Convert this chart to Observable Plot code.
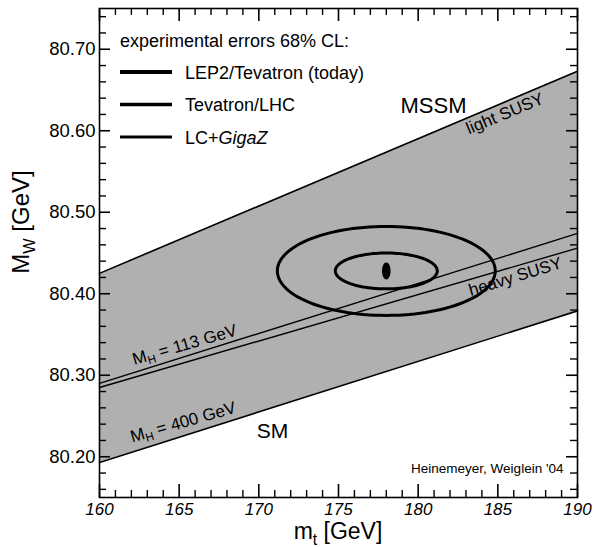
<!DOCTYPE html>
<html><head><meta charset="utf-8">
<script src="https://cdn.jsdelivr.net/npm/d3@7"></script>
<script src="https://cdn.jsdelivr.net/npm/@observablehq/plot@0.6"></script>
<style>
body{margin:0;background:#fff}
#chart{width:594px;height:547px;position:relative}
</style>
</head><body><div id="chart"></div>
<script>
// ---- data ----
const mtEnds = [160, 190];                 // m_t [GeV] at the frame edges
const mssmLightSusy = [80.425, 80.673];    // upper MSSM edge (light SUSY)
const mssmHeavySusy = [80.285, 80.456];    // lower MSSM edge (heavy SUSY)
const smMH113 = [80.290, 80.474];          // upper SM edge, M_H = 113 GeV
const smMH400 = [80.193, 80.379];          // lower SM edge, M_H = 400 GeV

const ellipseNames = ["LEP2/Tevatron (today)", "Tevatron/LHC", "LC+GigaZ"];
const ellipseMt = [178.0, 178.0, 178.0];
const ellipseMw = [80.428, 80.428, 80.428];
const ellipseDMt = [6.84, 3.2, 0.22];
const ellipseDMw = [0.0546, 0.022, 0.0095];

const xTickLabels = [160, 165, 170, 175, 180, 185, 190];
const yTickLabels = [80.20, 80.30, 80.40, 80.50, 80.60, 80.70];
const xMinorTicks = d3.range(161, 190, 1).filter(v => v % 5 !== 0);
const yMinorTicks = d3.range(80.16, 80.745, 0.02).filter(v => Math.abs(v * 10 - Math.round(v * 10)) > 1e-6);

// ---- layout ----
const W = 594, H = 547;
const mL = 99, mR = 17, mT = 8, mB = 50;
const innerW = W - mL - mR, innerH = H - mT - mB;
const FONT = "'Liberation Sans', Arial, Helvetica, sans-serif";
const xDom = [160, 190], yDom = [80.15, 80.75];
const xPerPx = (xDom[1] - xDom[0]) / innerW, yPerPx = (yDom[1] - yDom[0]) / innerH;
const TICK = "#000";

const ellipsePts = ellipseNames.flatMap((name, i) =>
  d3.range(0, 360, 3).map(a => ({
    name, i,
    x: ellipseMt[i] + ellipseDMt[i] * Math.cos(a * Math.PI / 180),
    y: ellipseMw[i] + ellipseDMw[i] * Math.sin(a * Math.PI / 180)
  })));

const annotations = [
  {text: "MSSM", x: 180.96, y: 80.631, size: 22, rotate: 0},
  {text: "SM", x: 170.86, y: 80.231, size: 21, rotate: 0},
  {text: "light SUSY", x: 185.45, y: 80.621, size: 17, rotate: -22.5},
  {text: "heavy SUSY", x: 186.1, y: 80.421, size: 17, rotate: -17}
];

// inward tick marks, drawn through the plot's scales
function xTickMarks(vals, len, sw) {
  return [
    Plot.ruleX(vals, {x: d => d, y1: yDom[0], y2: yDom[0] + len * yPerPx, stroke: TICK, strokeWidth: sw}),
    Plot.ruleX(vals, {x: d => d, y1: yDom[1], y2: yDom[1] - len * yPerPx, stroke: TICK, strokeWidth: sw})
  ];
}
function yTickMarks(vals, len, sw) {
  return [
    Plot.ruleY(vals, {y: d => d, x1: xDom[0], x2: xDom[0] + len * xPerPx, stroke: TICK, strokeWidth: sw}),
    Plot.ruleY(vals, {y: d => d, x1: xDom[1], x2: xDom[1] - len * xPerPx, stroke: TICK, strokeWidth: sw})
  ];
}

const plot = Plot.plot({
  width: W, height: H,
  marginLeft: mL, marginRight: mR, marginTop: mT, marginBottom: mB,
  style: {fontFamily: FONT, background: "#fff", color: "#000"},
  x: {domain: xDom, label: null},
  y: {domain: yDom, label: null},
  marks: [
    Plot.areaY(mtEnds, {x: mtEnds, y1: smMH400, y2: mssmLightSusy, fill: "#b0b0b0"}),
    Plot.line(mtEnds, {x: mtEnds, y: mssmLightSusy, stroke: "#000", strokeWidth: 1.6}),
    Plot.line(mtEnds, {x: mtEnds, y: smMH400, stroke: "#000", strokeWidth: 1.6}),
    Plot.line(mtEnds, {x: mtEnds, y: smMH113, stroke: "#000", strokeWidth: 1.4}),
    Plot.line(mtEnds, {x: mtEnds, y: mssmHeavySusy, stroke: "#000", strokeWidth: 1.4}),
    Plot.line(ellipsePts.filter(d => d.i < 2), {x: "x", y: "y", z: "name", stroke: "#000", strokeWidth: 3, curve: "linear-closed"}),
    Plot.line(ellipsePts.filter(d => d.i === 2), {x: "x", y: "y", z: "name", stroke: "#000", fill: "#000", strokeWidth: 1.5, curve: "linear-closed"}),
    ...xTickMarks(xMinorTicks, 7, 1.4),
    ...xTickMarks(xTickLabels, 13, 1.6),
    ...yTickMarks(yMinorTicks, 7, 1.4),
    ...yTickMarks(yTickLabels, 11, 1.6),
    Plot.frame({stroke: "#000", strokeWidth: 1.6}),
    Plot.axisX(xTickLabels, {tickSize: 0, tickPadding: 5, fontSize: 17, fontStyle: "italic", label: null}),
    Plot.axisY(yTickLabels, {tickSize: 0, tickPadding: 4, fontSize: 18.5, tickFormat: d3.format(".2f"), label: null}),
    Plot.text(annotations, {x: "x", y: "y", text: "text", fontSize: d => d.size, rotate: "rotate", fill: "#000"}),
    Plot.text(["Heinemeyer, Weiglein '04"], {frameAnchor: "bottom-right", dx: -14, dy: -25, textAnchor: "end", lineAnchor: "bottom", fontSize: 13.5, fill: "#000"})
  ]
});

document.getElementById("chart").appendChild(plot);

// ---- rich-text labels and legend ----
const svg = d3.select(plot);
const sx = plot.scale("x"), sy = plot.scale("y");

function subLabel(g, main, sub, rest, size) {
  g.append("tspan").text(main);
  g.append("tspan").attr("font-size", size * 0.68).attr("dy", size * 0.25).text(sub);
  g.append("tspan").attr("dy", -size * 0.25).text(rest);
}

// axis titles
const xt = svg.append("text").attr("x", 338).attr("y", 539)
  .attr("text-anchor", "middle").attr("font-size", 23).attr("font-family", FONT).attr("fill", "#000");
subLabel(xt, "m", "t", " [GeV]", 23);
const yt = svg.append("text").attr("transform", `translate(29,222) rotate(-90)`)
  .attr("text-anchor", "middle").attr("font-size", 24).attr("font-family", FONT).attr("fill", "#000");
subLabel(yt, "M", "W", " [GeV]", 24);

// Higgs mass labels along the SM band edges
const mhLabels = [
  {v: "113", x: 165.4, y: 80.335},
  {v: "400", x: 165.3, y: 80.240}
];
mhLabels.forEach(l => {
  const t = svg.append("text")
    .attr("transform", `translate(${sx.apply(l.x)},${sy.apply(l.y)}) rotate(-16)`)
    .attr("text-anchor", "middle").attr("dominant-baseline", "middle")
    .attr("font-size", 17).attr("font-family", FONT).attr("fill", "#000");
  subLabel(t, "M", "H", ` = ${l.v} GeV`, 17);
});

// legend
const lg = svg.append("g").attr("font-family", FONT).attr("font-size", 18).attr("fill", "#000").attr("text-anchor", "start");
lg.append("text").attr("x", 120).attr("y", 47).text("experimental errors 68% CL:");
const legendWidths = [4, 3.5, 3];
ellipseNames.forEach((n, i) => {
  const y = 72 + i * 32.5;
  lg.append("line").attr("x1", 120).attr("x2", 172).attr("y1", y).attr("y2", y)
    .attr("stroke", "#000").attr("stroke-width", legendWidths[i]);
  const t = lg.append("text").attr("x", 185).attr("y", y + 6.5);
  if (n === "LC+GigaZ") {
    t.append("tspan").text("LC+");
    t.append("tspan").attr("font-style", "italic").text("GigaZ");
  } else t.text(n);
});
</script>
</body></html>
